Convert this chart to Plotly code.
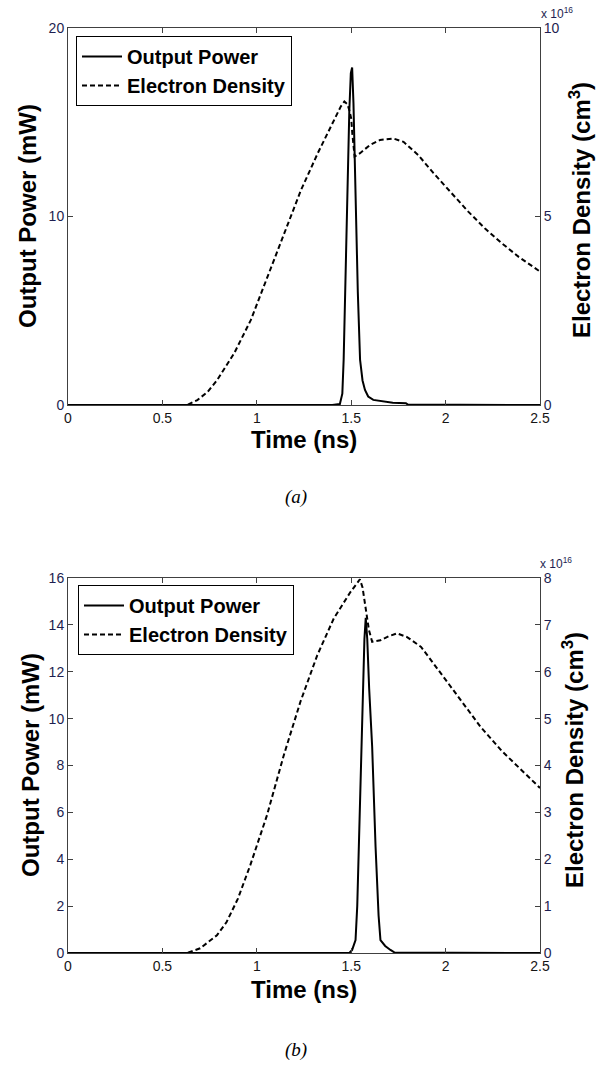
import plotly.graph_objects as go

W, H = 602, 1065

# ---------------- data (a) ----------------
t_power_a = [0, 1.40, 1.44, 1.453, 1.46, 1.47, 1.478, 1.49, 1.498, 1.505, 1.512, 1.52,
             1.527, 1.535, 1.547, 1.56, 1.573, 1.59, 1.617, 1.67, 1.72, 1.79, 1.80, 2.5]
power_a = [0, 0, 0.05, 0.6, 2.4, 6.5, 11.2, 15.6, 17.6, 17.9, 16.0, 12.5,
           9.0, 6.0, 2.4, 1.3, 0.8, 0.45, 0.27, 0.18, 0.12, 0.09, 0.02, 0]

t_dens_a = [0, 0.63, 0.685, 0.74, 0.79, 0.88, 0.968, 1.057, 1.145, 1.234, 1.323, 1.411,
            1.445, 1.464, 1.48, 1.49, 1.50, 1.506, 1.512, 1.518, 1.547, 1.60, 1.653,
            1.722, 1.777, 1.855, 1.936, 2.032, 2.12, 2.209, 2.298, 2.387, 2.5]
dens_a = [0, 0, 0.13, 0.35, 0.66, 1.37, 2.25, 3.40, 4.55, 5.70, 6.68, 7.56,
          7.92, 8.05, 7.98, 7.82, 7.6, 7.2, 6.8, 6.59, 6.68, 6.9, 7.03,
          7.07, 6.98, 6.63, 6.15, 5.62, 5.13, 4.68, 4.29, 3.93, 3.54]  # x 1e16 cm^-3

# ---------------- data (b) ----------------
t_power_b = [0, 1.49, 1.505, 1.523, 1.532, 1.54, 1.553, 1.563, 1.570, 1.577, 1.585, 1.595,
             1.611, 1.629, 1.645, 1.655, 1.68, 1.708, 1.73, 2.5]
power_b = [0, 0, 0.13, 0.55, 2.0, 4.53, 8.8, 12.0, 13.4, 14.3, 13.4, 11.3,
           8.8, 4.53, 1.6, 0.55, 0.3, 0.13, 0.02, 0]

t_dens_b = [0, 0.63, 0.70, 0.789, 0.84, 0.90, 0.966, 1.054, 1.143, 1.231, 1.32, 1.408, 1.496,
            1.53, 1.546, 1.56, 1.576, 1.594, 1.611, 1.655, 1.70, 1.743, 1.796, 1.87,
            1.976, 2.08, 2.186, 2.3, 2.4, 2.5]
dens_b = [0, 0, 0.10, 0.38, 0.66, 1.16, 1.88, 2.94, 4.22, 5.36, 6.35, 7.14, 7.70,
          7.90, 7.97, 7.80, 7.38, 6.89, 6.64, 6.67, 6.76, 6.82, 6.74, 6.53,
          5.96, 5.39, 4.82, 4.30, 3.90, 3.52]

x_ticks = [0, 0.5, 1, 1.5, 2, 2.5]
x_ticktext = ["0", "0.5", "1", "1.5", "2", "2.5"]
y_ticks_a = [0, 10, 20]
y2_ticks_a = [0, 5, 10]
y_ticks_b = [0, 2, 4, 6, 8, 10, 12, 14, 16]
y2_ticks_b = [0, 1, 2, 3, 4, 5, 6, 7, 8]

FONT = "Liberation Sans, Arial, sans-serif"
TICKCOL = "#1e1e50"
AXCOL = "#404040"


def px(x):
    return x / W


def py(y):
    return 1 - y / H


fig = go.Figure()
line_solid = dict(color="black", width=2)
line_dash = dict(color="black", width=2, dash="5px,3px")

fig.add_trace(go.Scatter(x=t_power_a, y=power_a, mode="lines", name="Output Power",
                         line=line_solid, xaxis="x", yaxis="y", legend="legend"))
fig.add_trace(go.Scatter(x=t_dens_a, y=dens_a, mode="lines", name="Electron Density",
                         line=line_dash, xaxis="x", yaxis="y2", legend="legend"))
fig.add_trace(go.Scatter(x=t_power_b, y=power_b, mode="lines", name="Output Power",
                         line=line_solid, xaxis="x2", yaxis="y3", legend="legend2"))
fig.add_trace(go.Scatter(x=t_dens_b, y=dens_b, mode="lines", name="Electron Density",
                         line=line_dash, xaxis="x2", yaxis="y4", legend="legend2"))

xdom = [px(68), px(540)]
ydom_a = [py(405), py(28)]
ydom_b = [py(953), py(578)]

common = dict(showgrid=False, zeroline=False, showline=True, linecolor=AXCOL, linewidth=1,
              ticks="inside", ticklen=5, tickcolor=AXCOL, automargin=False,
              tickfont=dict(family=FONT, size=14, color=TICKCOL))

xcommon = dict(common, range=[0, 2.5], tickvals=x_ticks, ticktext=x_ticktext, mirror="ticks",
               tickfont=dict(family=FONT, size=14, color="#151515"))

legend_style = dict(bordercolor="black", borderwidth=1, bgcolor="white",
                    font=dict(family=FONT, size=20, color="black", weight="bold"),
                    xanchor="left", yanchor="top", tracegroupgap=0, itemwidth=40)

fig.update_layout(
    width=W, height=H, margin=dict(l=0, r=0, t=0, b=0, autoexpand=False),
    paper_bgcolor="white", plot_bgcolor="white", showlegend=True,
    xaxis=dict(xcommon, domain=xdom, anchor="y"),
    yaxis=dict(common, domain=ydom_a, range=[0, 20], tickvals=y_ticks_a, mirror=True),
    yaxis2=dict(common, range=[0, 10], tickvals=y2_ticks_a, overlaying="y", side="right",
                anchor="x"),
    xaxis2=dict(xcommon, domain=xdom, anchor="y3"),
    yaxis3=dict(common, domain=ydom_b, range=[0, 16], tickvals=y_ticks_b, mirror=True, anchor="x2"),
    yaxis4=dict(common, range=[0, 8], tickvals=y2_ticks_b, overlaying="y3", side="right",
                anchor="x2"),
    legend=dict(legend_style, x=px(76), y=py(36)),
    legend2=dict(legend_style, x=px(78), y=py(585)),
)

title_font = dict(family=FONT, size=24, color="black", weight="bold")
ann = []
# axis titles
ann.append(dict(text="Time (ns)", x=px(304), y=py(440), font=title_font))
ann.append(dict(text="Time (ns)", x=px(304), y=py(989), font=title_font))
ann.append(dict(text="Output Power (mW)", x=px(28), y=py(216), textangle=-90, font=title_font))
ann.append(dict(text="Output Power (mW)", x=px(30), y=py(765), textangle=-90, font=title_font))
ann.append(dict(text="Electron Density (cm<sup>3</sup>)", x=px(580), y=py(210), textangle=-90,
                font=title_font))
ann.append(dict(text="Electron Density (cm<sup>3</sup>)", x=px(573), y=py(760), textangle=-90,
                font=title_font))
# exponent labels
ann.append(dict(text="x 10<sup>16</sup>", x=px(539), y=py(13), xanchor="left",
                font=dict(family=FONT, size=12, color=TICKCOL)))
ann.append(dict(text="x 10<sup>16</sup>", x=px(538), y=py(563), xanchor="left",
                font=dict(family=FONT, size=12, color=TICKCOL)))
# captions
cap_font = dict(family="Liberation Serif, Times New Roman, serif", size=19, color="black",
                style="italic")
ann.append(dict(text="(a)", x=px(296), y=py(497), font=cap_font))
ann.append(dict(text="(b)", x=px(296), y=py(1050), font=cap_font))

for a in ann:
    a.setdefault("xref", "paper")
    a.setdefault("yref", "paper")
    a.setdefault("xanchor", "center")
    a.setdefault("yanchor", "middle")
    a.setdefault("showarrow", False)
fig.update_layout(annotations=ann)

fig.write_html("out.html")
